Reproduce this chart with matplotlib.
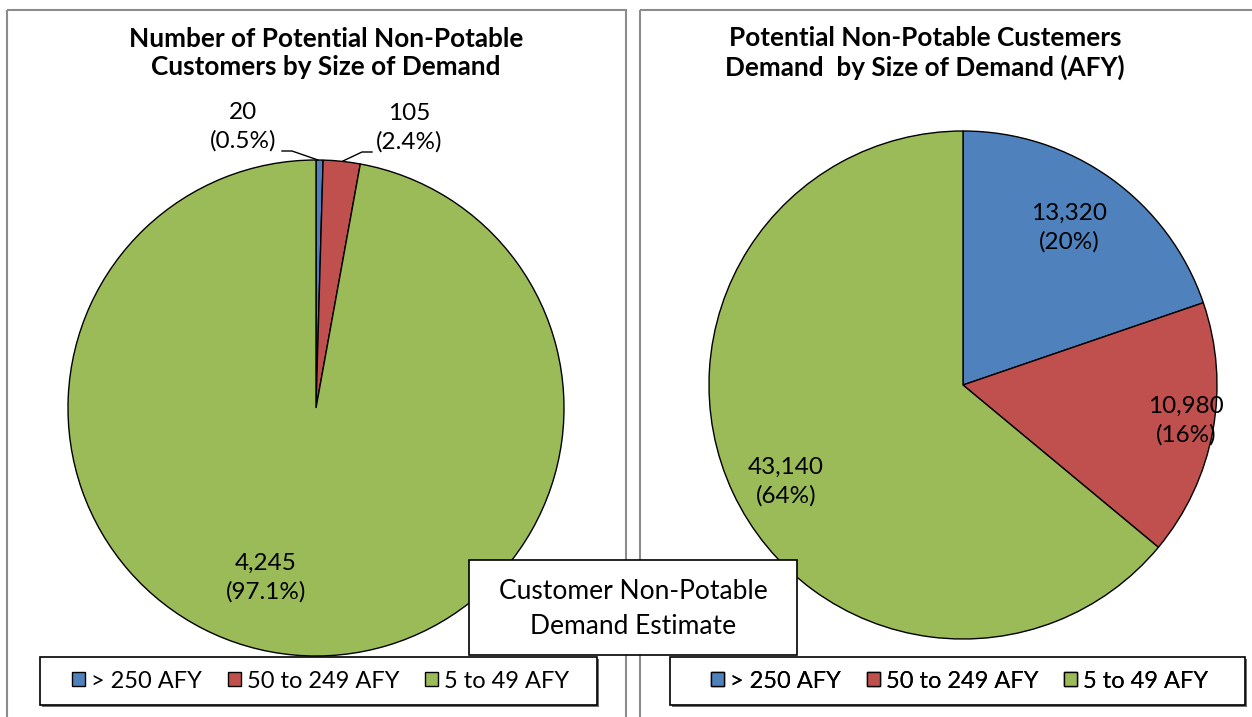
import matplotlib
matplotlib.use('Agg')
import matplotlib.pyplot as plt
from matplotlib.patches import Rectangle

plt.rcParams['font.family'] = ['Lato', 'DejaVu Sans']

# data
categories = ['> 250 AFY', '50 to 249 AFY', '5 to 49 AFY']
customer_counts = [20, 105, 4245]
demand_afy = [13320, 10980, 43140]
colors = ['#4F81BD', '#C0504D', '#9BBB59']

left_title = 'Number of Potential Non-Potable\nCustomers by Size of Demand'
right_title = 'Potential Non-Potable Custemers\nDemand  by Size of Demand (AFY)'
center_note = 'Customer Non-Potable\nDemand Estimate'

W, H = 1252, 717
fig = plt.figure(figsize=(W / 100, H / 100), dpi=100)
ax = fig.add_axes([0, 0, 1, 1])

# panel borders
for x0, x1 in [(7, 626), (640, 1260)]:
    ax.add_patch(Rectangle((x0, 10), x1 - x0, 720, fill=False, ec='#8c8c8c', lw=1.5, zorder=1))

wp = dict(edgecolor='black', linewidth=1.0)

# y axis gets inverted below, so counterclock=True ends up clockwise on screen
w_left, _ = ax.pie(customer_counts, colors=colors, startangle=-90, counterclock=True,
                   center=(316, 408), radius=248, wedgeprops=wp, frame=True)
w_right, _ = ax.pie(demand_afy, colors=colors, startangle=-90, counterclock=True,
                    center=(963, 385), radius=254, wedgeprops=wp, frame=True)
ax.set_xlim(0, W)
ax.set_ylim(H, 0)
ax.set_aspect('equal')
ax.axis('off')


def pct(vals, i):
    return 100.0 * vals[i] / sum(vals)


fs_lab = 17.5
ls_lab = 1.4
cc = customer_counts
ax.text(243, 127, f'{cc[0]:,}\n({pct(cc, 0):.1f}%)', ha='center', va='center', fontsize=fs_lab, linespacing=ls_lab)
ax.text(409, 128, f'{cc[1]:,}\n({pct(cc, 1):.1f}%)', ha='center', va='center', fontsize=fs_lab, linespacing=ls_lab)
ax.text(266, 578, f'{cc[2]:,}\n({pct(cc, 2):.1f}%)', ha='center', va='center', fontsize=fs_lab, linespacing=ls_lab)
# leader lines for the thin slices
ax.plot([282, 292, 318], [151, 151, 160], color='black', lw=1)
ax.plot([372, 362, 343], [152, 152, 161], color='black', lw=1)

dm = demand_afy
ax.text(1069, 228, f'{dm[0]:,}\n({pct(dm, 0):.0f}%)', ha='center', va='center', fontsize=fs_lab, linespacing=ls_lab)
ax.text(1186, 421, f'{dm[1]:,}\n({pct(dm, 1):.0f}%)', ha='center', va='center', fontsize=fs_lab, linespacing=ls_lab)
ax.text(786, 482, f'{dm[2]:,}\n({pct(dm, 2):.0f}%)', ha='center', va='center', fontsize=fs_lab, linespacing=ls_lab)

# titles
ax.text(326, 53, left_title, ha='center', va='center', fontsize=18.8, fontweight='bold', linespacing=1.2)
ax.text(925, 53, right_title, ha='center', va='center', fontsize=18.8, fontweight='bold', linespacing=1.2)

# center note box
ax.add_patch(Rectangle((469, 560), 328, 95, fc='white', ec='black', lw=1.2, zorder=5))
ax.text(633, 609, center_note, ha='center', va='center', fontsize=19, linespacing=1.5, zorder=6)

# legends: own frame + shadow, legend itself unframed
for wedges, (x0, x1) in [(w_left, (40, 597)), (w_right, (670, 1245))]:
    y0, y1 = 657, 705
    ax.add_patch(Rectangle((x0 + 2, y0 + 2), x1 - x0, y1 - y0, fc='#6e6e6e', ec='none', zorder=6))
    ax.add_patch(Rectangle((x0, y0), x1 - x0, y1 - y0, fc='white', ec='black', lw=1.2, zorder=7))
    cx, cy = (x0 + x1) / 2, (y0 + y1) / 2
    leg = ax.legend(wedges, categories, ncol=3, loc='center',
                    bbox_to_anchor=(cx + 2, cy), bbox_transform=ax.transData,
                    fontsize=17, frameon=False, columnspacing=1.1,
                    handlelength=0.55, handleheight=0.55, handletextpad=0.25,
                    borderpad=0, borderaxespad=0)
    leg.set_zorder(8)
    ax.add_artist(leg)

fig.savefig('out.png', dpi=100)
